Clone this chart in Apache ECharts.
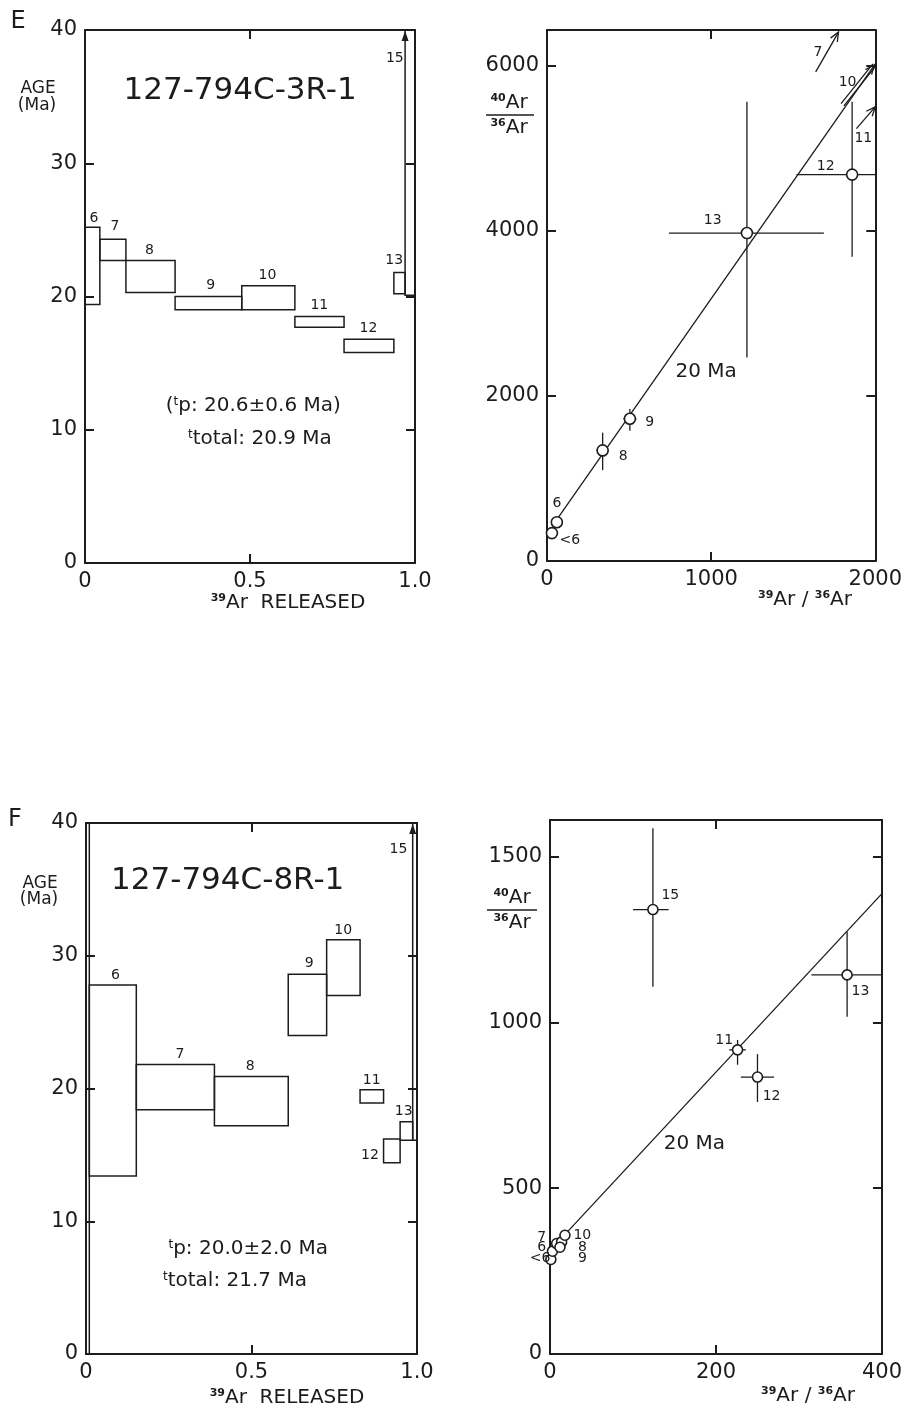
<!DOCTYPE html>
<html>
<head>
<meta charset="utf-8">
<script src="https://cdn.jsdelivr.net/npm/echarts@6/dist/echarts.min.js"></script>
<style>
  html, body { margin: 0; padding: 0; background: #fff; }
  #chart { width: 905px; height: 1407px; }
</style>
</head>
<body>
<div id="chart"></div>
<script>
// ---------- E : 127-794C-3R-1, age spectrum ----------
const stepNamesE = ['6', '7', '8', '9', '10', '11', '12', '13', '15'];
const fracFromE = [0, 0.045, 0.124, 0.273, 0.475, 0.636, 0.785, 0.936, 0.970];
const fracToE = [0.045, 0.124, 0.273, 0.475, 0.636, 0.785, 0.936, 0.970, 1.0];
const ageLowE = [19.4, 22.7, 20.3, 19.0, 19.0, 17.7, 15.8, 20.2, 20.1];
const ageHighE = [25.2, 24.3, 22.7, 20.0, 20.8, 18.5, 16.8, 21.8, 40];
const offScaleE = [0, 0, 0, 0, 0, 0, 0, 0, 1];
const stepLabelXE = [0.027, 0.091, 0.195, 0.381, 0.553, 0.71, 0.859, 0.937, 0.939];
const stepLabelYE = [25.9, 25.3, 23.5, 20.8, 21.6, 19.3, 17.6, 22.7, 37.9];

// ---------- E : isochron ----------
const isoNamesE = ['<6', '6', '8', '9', '13', '12'];
const isoXE = [30, 60, 339, 505, 1218, 1859];
const isoYE = [338, 470, 1339, 1722, 3971, 4679];
const isoXLowE = [30, 60, 301, 465, 743, 1520];
const isoXHighE = [30, 60, 377, 545, 1687, 2000];
const isoYLowE = [338, 470, 1100, 1578, 2464, 3684];
const isoYHighE = [338, 470, 1554, 1841, 5560, 5560];
const isoLabelXE = [139, 60, 465, 626, 1010, 1698];
const isoLabelYE = [253, 700, 1267, 1683, 4126, 4777];
// off-scale points, shown as arrows
const arrowNamesE = ['7', '10', '11'];
const arrowFromXE = [1637, 1800, 1885];
const arrowFromYE = [5923, 5525, 5235];
const arrowToXE = [1776, 1994, 2000];
const arrowToYE = [6405, 6007, 5500];
const arrowDoubleE = [0, 1, 0];
const arrowLabelXE = [1650, 1831, 1927];
const arrowLabelYE = [6164, 5802, 5115];
const lineXE = [50, 2000];
const lineYE = [475, 6020];

// ---------- F : 127-794C-8R-1, age spectrum ----------
const stepNamesF = ['', '6', '7', '8', '9', '10', '11', '12', '13', '15'];
const fracFromF = [0, 0.01, 0.152, 0.388, 0.611, 0.727, 0.828, 0.899, 0.949, 0.987];
const fracToF = [0.01, 0.152, 0.388, 0.611, 0.727, 0.828, 0.899, 0.949, 0.987, 1.0];
const ageLowF = [0, 13.4, 18.4, 17.2, 24.0, 27.0, 18.9, 14.4, 16.1, 16.1];
const ageHighF = [40, 27.8, 21.8, 20.9, 28.6, 31.2, 19.9, 16.2, 17.5, 40];
const offScaleF = [0, 0, 0, 0, 0, 0, 0, 0, 0, 1];
const stepLabelXF = [0, 0.089, 0.284, 0.496, 0.674, 0.777, 0.863, 0.858, 0.96, 0.944];
const stepLabelYF = [0, 28.5, 22.6, 21.7, 29.4, 31.9, 20.6, 15.0, 18.3, 38.0];

// ---------- F : isochron ----------
const isoNamesF = ['<6', '6', '7', '8', '9', '10', '11', '12', '13', '15'];
const isoXF = [1, 3, 8, 14, 12, 18, 226, 250, 358, 124];
const isoYF = [285, 310, 333, 338, 322, 358, 917, 835, 1143, 1340];
const isoXLowF = [1, 3, 8, 14, 12, 18, 216, 230, 315, 100];
const isoXHighF = [1, 3, 8, 14, 12, 18, 236, 270, 400, 143];
const isoYLowF = [285, 310, 333, 338, 322, 358, 872, 760, 1017, 1107];
const isoYHighF = [285, 310, 333, 338, 322, 358, 947, 904, 1273, 1585];
const isoLabelXF = [-12, -10, -10, 39, 39, 39, 210, 267, 374, 145];
const isoLabelYF = [289, 321, 353, 323, 289, 359, 945, 778, 1092, 1382];
const lineXF = [3, 400];
const lineYF = [320, 1388];

const INK = '#1c1c1c';
const FONT = "'DejaVu Sans', sans-serif";
const RICH = {
  t: { fontSize: 12, verticalAlign: 'top', fontFamily: FONT, fill: INK, color: INK },
  s: { fontSize: 11, verticalAlign: 'top', fontWeight: 'bold', fontFamily: FONT, fill: INK, color: INK }
};

function axisPair(gi, pos, min, max, interval, fmt, showMaxLabel) {
  const base = {
    type: 'value', gridIndex: gi, min: min, max: max, interval: interval,
    axisLine: { show: true, onZero: false, lineStyle: { color: INK, width: 2 } },
    axisTick: { show: true, inside: true, length: 9, lineStyle: { color: INK, width: 2 } },
    splitLine: { show: false }
  };
  const main = Object.assign({}, base, {
    position: pos[0],
    axisLabel: { show: true, color: INK, fontSize: 21, fontFamily: FONT, margin: 8,
      formatter: fmt, showMaxLabel: showMaxLabel }
  });
  const mirror = Object.assign({}, base, { position: pos[1], axisLabel: { show: false } });
  return [main, mirror];
}

const fracFmt = v => (v === 0 ? '0' : v.toFixed(1));
const intFmt = v => String(Math.round(v));

function stepSeries(gi, from, to, lo, hi, off) {
  return {
    type: 'custom', xAxisIndex: 2 * gi, yAxisIndex: 2 * gi, z: 3, silent: true,
    data: from.map((v, i) => [v, to[i], lo[i], hi[i], off[i]]),
    renderItem: function (params, api) {
      const a = api.coord([api.value(0), api.value(3)]);
      const b = api.coord([api.value(1), api.value(2)]);
      const kids = [{
        type: 'rect',
        shape: { x: a[0], y: a[1], width: b[0] - a[0], height: b[1] - a[1] },
        style: { fill: 'none', stroke: INK, lineWidth: 1.5 }
      }];
      if (api.value(4)) {
        kids.push({
          type: 'polygon',
          shape: { points: [[a[0], a[1] + 1], [a[0] - 3.5, a[1] + 11], [a[0] + 3.5, a[1] + 11]] },
          style: { fill: INK }
        });
      }
      return { type: 'group', children: kids };
    }
  };
}

function isoSeries(gi, xs, ys, xl, xh, yl, yh, r) {
  return {
    type: 'custom', xAxisIndex: 2 * gi, yAxisIndex: 2 * gi, z: 4, silent: true,
    data: xs.map((x, i) => [x, ys[i], xl[i], xh[i], yl[i], yh[i]]),
    renderItem: function (params, api) {
      const c = api.coord([api.value(0), api.value(1)]);
      const l = api.coord([api.value(2), api.value(1)]);
      const h = api.coord([api.value(3), api.value(1)]);
      const b = api.coord([api.value(0), api.value(4)]);
      const t = api.coord([api.value(0), api.value(5)]);
      const st = { stroke: INK, lineWidth: 1.3 };
      return { type: 'group', children: [
        { type: 'line', shape: { x1: l[0], y1: l[1], x2: h[0], y2: h[1] }, style: st },
        { type: 'line', shape: { x1: b[0], y1: b[1], x2: t[0], y2: t[1] }, style: st },
        { type: 'circle', shape: { cx: c[0], cy: c[1], r: r },
          style: { fill: '#fff', stroke: INK, lineWidth: 1.6 } }
      ] };
    }
  };
}

function arrowSeries(gi, x0, y0, x1, y1, dbl) {
  return {
    type: 'custom', xAxisIndex: 2 * gi, yAxisIndex: 2 * gi, z: 4, silent: true,
    data: x0.map((v, i) => [v, y0[i], x1[i], y1[i], dbl[i]]),
    renderItem: function (params, api) {
      const p = api.coord([api.value(0), api.value(1)]);
      const q = api.coord([api.value(2), api.value(3)]);
      const ang = Math.atan2(q[1] - p[1], q[0] - p[0]);
      const L = 10, s = 0.4;
      const st = { stroke: INK, lineWidth: 1.3, fill: 'none' };
      const kids = [];
      const offs = api.value(4) ? [-1.8, 1.8] : [0];
      offs.forEach(o => {
        const dx = -Math.sin(ang) * o, dy = Math.cos(ang) * o;
        kids.push({ type: 'line', shape: { x1: p[0] + dx, y1: p[1] + dy, x2: q[0] + dx, y2: q[1] + dy }, style: st });
      });
      kids.push({ type: 'polyline', shape: { points: [
        [q[0] - L * Math.cos(ang - s), q[1] - L * Math.sin(ang - s)], q,
        [q[0] - L * Math.cos(ang + s), q[1] - L * Math.sin(ang + s)]
      ] }, style: st });
      return { type: 'group', children: kids };
    }
  };
}

function textSeries(gi, xs, ys, texts, size) {
  return {
    type: 'custom', xAxisIndex: 2 * gi, yAxisIndex: 2 * gi, z: 6, silent: true,
    data: xs.map((x, i) => [x, ys[i]]),
    renderItem: function (params, api) {
      const p = api.coord([api.value(0), api.value(1)]);
      return { type: 'text', x: p[0], y: p[1], style: {
        text: texts[params.dataIndex], fontSize: size, fontFamily: FONT, fill: INK,
        align: 'center', verticalAlign: 'middle', rich: RICH } };
    }
  };
}

function fitLine(gi, xs, ys) {
  return {
    type: 'line', xAxisIndex: 2 * gi, yAxisIndex: 2 * gi, z: 2, silent: true,
    symbol: 'none', data: xs.map((x, i) => [x, ys[i]]),
    lineStyle: { color: INK, width: 1.3 }
  };
}

const chart = echarts.init(document.getElementById('chart'), null, { renderer: 'canvas' });

const xAxes = [].concat(
  axisPair(0, ['bottom', 'top'], 0, 1, 0.5, fracFmt, true),
  axisPair(1, ['bottom', 'top'], 0, 2000, 1000, intFmt, true),
  axisPair(2, ['bottom', 'top'], 0, 1, 0.5, fracFmt, true),
  axisPair(3, ['bottom', 'top'], 0, 400, 200, intFmt, true)
);
const yAxes = [].concat(
  axisPair(0, ['left', 'right'], 0, 40, 10, intFmt, true),
  axisPair(1, ['left', 'right'], 0, 6430, 2000, intFmt, false),
  axisPair(2, ['left', 'right'], 0, 40, 10, intFmt, true),
  axisPair(3, ['left', 'right'], 0, 1610, 500, intFmt, false)
);

const option = {
  backgroundColor: '#fff',
  animation: false,
  textStyle: { fontFamily: FONT, color: INK },
  grid: [
    { left: 85, top: 30, width: 330, height: 533 },
    { left: 547, top: 30, width: 331, height: 531 },
    { left: 86, top: 823, width: 331, height: 531 },
    { left: 550, top: 820, width: 332, height: 534 }
  ],
  xAxis: xAxes,
  yAxis: yAxes,
  series: [
    stepSeries(0, fracFromE, fracToE, ageLowE, ageHighE, offScaleE),
    textSeries(0, stepLabelXE, stepLabelYE, stepNamesE, 14),
    textSeries(0, [0.47], [35.4], ['127-794C-3R-1'], 31),
    textSeries(0, [0.51, 0.53], [11.8, 9.3],
      ['({t|t}p: 20.6±0.6 Ma)', '{t|t}total: 20.9 Ma'], 20),

    fitLine(1, lineXE, lineYE),
    isoSeries(1, isoXE, isoYE, isoXLowE, isoXHighE, isoYLowE, isoYHighE, 5.5),
    arrowSeries(1, arrowFromXE, arrowFromYE, arrowToXE, arrowToYE, arrowDoubleE),
    textSeries(1, isoLabelXE, isoLabelYE, isoNamesE, 14),
    textSeries(1, arrowLabelXE, arrowLabelYE, arrowNamesE, 14),
    textSeries(1, [970], [2295], ['20 Ma'], 20),

    stepSeries(2, fracFromF, fracToF, ageLowF, ageHighF, offScaleF),
    textSeries(2, stepLabelXF, stepLabelYF, stepNamesF, 14),
    textSeries(2, [0.428], [35.6], ['127-794C-8R-1'], 31),
    textSeries(2, [0.49, 0.45], [7.9, 5.5],
      ['{t|t}p: 20.0±2.0 Ma', '{t|t}total: 21.7 Ma'], 20),

    fitLine(3, lineXF, lineYF),
    isoSeries(3, isoXF, isoYF, isoXLowF, isoXHighF, isoYLowF, isoYHighF, 5),
    textSeries(3, isoLabelXF, isoLabelYF, isoNamesF, 14),
    textSeries(3, [174], [634], ['20 Ma'], 20)
  ],
  graphic: [
    { type: 'text', x: 18, y: 22, style: { text: 'E', fontSize: 24, fontFamily: FONT, fill: INK, align: 'center', verticalAlign: 'middle' } },
    { type: 'text', x: 15, y: 820, style: { text: 'F', fontSize: 24, fontFamily: FONT, fill: INK, align: 'center', verticalAlign: 'middle' } },

    { type: 'text', x: 38, y: 89, style: { text: 'AGE', fontSize: 17, fontFamily: FONT, fill: INK, align: 'center', verticalAlign: 'middle' } },
    { type: 'text', x: 37, y: 106, style: { text: '(Ma)', fontSize: 17, fontFamily: FONT, fill: INK, align: 'center', verticalAlign: 'middle' } },
    { type: 'text', x: 40, y: 884, style: { text: 'AGE', fontSize: 17, fontFamily: FONT, fill: INK, align: 'center', verticalAlign: 'middle' } },
    { type: 'text', x: 39, y: 900, style: { text: '(Ma)', fontSize: 17, fontFamily: FONT, fill: INK, align: 'center', verticalAlign: 'middle' } },

    { type: 'text', x: 288, y: 603, style: { text: '{s|39}Ar  RELEASED', fontSize: 20, fontFamily: FONT, fill: INK, align: 'center', verticalAlign: 'middle', rich: RICH } },
    { type: 'text', x: 287, y: 1398, style: { text: '{s|39}Ar  RELEASED', fontSize: 20, fontFamily: FONT, fill: INK, align: 'center', verticalAlign: 'middle', rich: RICH } },

    { type: 'text', x: 509, y: 103, style: { text: '{s|40}Ar', fontSize: 20, fontFamily: FONT, fill: INK, align: 'center', verticalAlign: 'middle', rich: RICH } },
    { type: 'line', shape: { x1: 486, y1: 115, x2: 534, y2: 115 }, style: { stroke: INK, lineWidth: 1.5 } },
    { type: 'text', x: 509, y: 128, style: { text: '{s|36}Ar', fontSize: 20, fontFamily: FONT, fill: INK, align: 'center', verticalAlign: 'middle', rich: RICH } },
    { type: 'text', x: 512, y: 898, style: { text: '{s|40}Ar', fontSize: 20, fontFamily: FONT, fill: INK, align: 'center', verticalAlign: 'middle', rich: RICH } },
    { type: 'line', shape: { x1: 487, y1: 910, x2: 537, y2: 910 }, style: { stroke: INK, lineWidth: 1.5 } },
    { type: 'text', x: 512, y: 923, style: { text: '{s|36}Ar', fontSize: 20, fontFamily: FONT, fill: INK, align: 'center', verticalAlign: 'middle', rich: RICH } },

    { type: 'text', x: 805, y: 600, style: { text: '{s|39}Ar / {s|36}Ar', fontSize: 20, fontFamily: FONT, fill: INK, align: 'center', verticalAlign: 'middle', rich: RICH } },
    { type: 'text', x: 808, y: 1396, style: { text: '{s|39}Ar / {s|36}Ar', fontSize: 20, fontFamily: FONT, fill: INK, align: 'center', verticalAlign: 'middle', rich: RICH } }
  ]
};

chart.setOption(option);
</script>
</body>
</html>
